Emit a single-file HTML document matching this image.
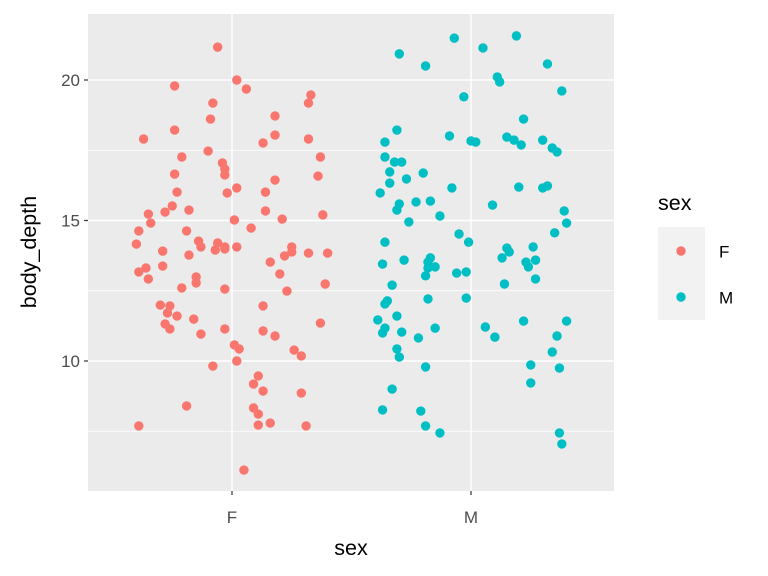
<!DOCTYPE html>
<html><head><meta charset="utf-8"><style>
html,body{margin:0;padding:0;background:#fff;}
svg{display:block;font-family:"Liberation Sans",sans-serif;}
</style></head><body>
<svg id="chart" width="768" height="576"></svg>
<script>
const categories = ["F","M"];
const yTicks = [10,15,20];
const yMinor = [7.5,12.5,17.5];
const fJitter = [-0.06,-0.24,0.02,0.06,0.33,0.32,-0.08,-0.09,-0.24,0.18,0.18,0.32,-0.10,-0.21,0.37,-0.04,-0.03,-0.03,-0.24,-0.23,-0.37,0.02,-0.02,0.13,0.36,0.18,0.14,-0.25,-0.35,-0.39,-0.28,-0.18,0.14,0.21,0.38,-0.34,-0.19,0.01,0.08,-0.14,-0.06,-0.13,-0.03,-0.03,0.02,-0.07,-0.40,-0.29,-0.18,0.25,0.25,0.22,0.16,0.32,0.40,-0.39,-0.29,-0.36,-0.15,-0.15,-0.21,-0.03,0.39,0.23,-0.30,-0.26,-0.27,-0.23,-0.16,0.13,-0.28,-0.26,-0.13,-0.03,0.13,0.18,0.37,0.01,0.03,0.26,0.29,0.02,-0.08,0.11,0.09,0.13,0.29,-0.19,0.09,0.11,0.16,0.11,-0.39,0.31,0.05,0.20,-0.35];
const fDepth = [21.17,19.79,20.0,19.68,19.47,19.18,19.18,18.61,18.22,18.72,18.04,17.90,17.47,17.26,17.26,17.05,16.83,16.62,16.65,16.01,17.90,16.16,15.98,17.76,16.58,16.44,16.01,15.52,15.23,14.63,15.30,15.37,15.34,15.05,15.20,14.91,14.63,15.02,14.73,14.27,14.20,14.06,14.06,13.99,14.06,13.95,14.16,13.91,13.77,14.06,13.88,13.74,13.52,13.84,13.84,13.17,13.38,13.31,12.99,12.78,12.60,12.56,12.74,12.49,11.99,11.96,11.71,11.60,11.49,11.96,11.32,11.14,10.96,11.14,11.07,10.89,11.35,10.57,10.43,10.39,10.18,10.0,9.82,9.47,9.18,8.93,8.86,8.40,8.33,8.11,7.79,7.72,7.69,7.69,6.12,13.10,12.92];
const mJitter = [-0.30,-0.19,-0.07,0.05,0.19,0.11,0.12,-0.03,0.32,0.38,-0.31,0.22,-0.36,0.18,0.21,0.30,0.34,0.36,0.15,-0.09,0.0,0.02,-0.36,-0.32,-0.29,-0.34,-0.27,-0.34,-0.20,-0.08,0.20,0.30,0.32,-0.38,-0.30,-0.31,-0.23,-0.17,0.09,-0.26,-0.13,-0.05,-0.01,-0.36,0.39,0.40,0.35,0.15,0.16,0.26,0.27,0.23,0.13,0.24,-0.28,-0.17,-0.18,-0.18,-0.15,-0.37,-0.06,-0.02,-0.19,0.27,-0.33,0.14,-0.35,-0.36,-0.18,-0.02,-0.36,-0.39,-0.31,0.06,0.10,0.22,0.40,-0.37,-0.29,-0.15,-0.22,0.36,-0.31,-0.30,0.34,0.25,-0.19,0.37,-0.33,0.25,-0.37,-0.21,-0.19,-0.13,0.37,0.38];
const mDepth = [20.93,20.50,21.49,21.14,21.57,20.11,19.93,19.40,20.57,19.61,18.22,18.61,17.79,17.86,17.69,17.86,17.58,17.44,17.97,18.01,17.83,17.79,17.26,17.08,17.08,16.73,16.48,16.33,16.69,16.16,16.19,16.16,16.23,15.98,15.59,15.37,15.66,15.69,15.55,14.95,15.16,14.52,14.23,14.23,15.34,14.91,14.56,14.02,13.88,14.06,13.59,13.52,13.67,13.35,13.59,13.67,13.52,13.31,13.35,13.45,13.13,13.17,13.03,12.92,12.70,12.74,12.14,12.03,12.21,12.24,11.17,11.46,11.60,11.21,10.85,11.42,11.42,11.0,11.03,11.17,10.82,10.89,10.43,10.14,10.32,9.86,9.79,9.75,9.0,9.22,8.26,8.22,7.69,7.44,7.44,7.05];
const colors = {F:"#F8766D", M:"#00BFC4"};

const svg = document.getElementById('chart');
const NS = "http://www.w3.org/2000/svg";
const P = {l:88, r:614, t:14, b:491};
function xScale(v){ return 232 + (v-1)*239; }
function yScale(v){ return 80 + (20-v)*28.1; }
function mk(tag, attrs, parent){ const e=document.createElementNS(NS,tag); for(const k in attrs) e.setAttribute(k,attrs[k]); (parent||svg).appendChild(e); return e; }

const panel = mk('rect',{x:P.l,y:P.t,width:P.r-P.l,height:P.b-P.t,fill:'#EBEBEB'});


yMinor.forEach(v=>{ const l=mk('line',{x1:P.l,x2:P.r,y1:yScale(v),y2:yScale(v),stroke:'#fff','stroke-width':0.7});
  
   });
yTicks.forEach(v=>{ const l=mk('line',{x1:P.l,x2:P.r,y1:yScale(v),y2:yScale(v),stroke:'#fff','stroke-width':1.4});
  
  
  const t=mk('line',{x1:P.l-4,x2:P.l,y1:yScale(v),y2:yScale(v),stroke:'#333','stroke-width':1.2});
  
  
  const tx=mk('text',{x:P.l-8,y:yScale(v)+6,'text-anchor':'end','font-size':17,fill:'#4D4D4D'}); tx.textContent=v;
  
   });
categories.forEach((c,i)=>{ const x=xScale(i+1);
  const l=mk('line',{x1:x,x2:x,y1:P.t,y2:P.b,stroke:'#fff','stroke-width':1.4});
  
  
  const t=mk('line',{x1:x,x2:x,y1:P.b,y2:P.b+4,stroke:'#333','stroke-width':1.2});
  
  
  const tx=mk('text',{x:x,y:523,'text-anchor':'middle','font-size':17,fill:'#4D4D4D'}); tx.textContent=c;
  
   });

function drawPts(jit, dep, catIdx, cat){
  jit.forEach((j,i)=>{ const c=mk('circle',{cx:xScale(catIdx+j),cy:yScale(dep[i]),r:4.7,fill:colors[cat]});
    
     });
}
drawPts(fJitter,fDepth,1,'F');
drawPts(mJitter,mDepth,2,'M');

const xt=mk('text',{x:351,y:555,'text-anchor':'middle','font-size':21.5,fill:'#000'}); xt.textContent='sex';


const yt=mk('text',{x:0,y:0,'text-anchor':'middle','font-size':21.5,fill:'#000',transform:'translate(36,252) rotate(-90)'}); yt.textContent='body_depth';



const lt=mk('text',{x:658,y:210,'font-size':21.5,fill:'#000'}); lt.textContent='sex';


const lb=mk('rect',{x:658,y:227,width:47,height:93,fill:'#F2F2F2'});


categories.forEach((c,i)=>{ const y=251+i*46;
  const k=mk('circle',{cx:681,cy:y,r:4.7,fill:colors[c]});
  
  
  const t=mk('text',{x:719,y:y+6.5,'font-size':17,fill:'#000'}); t.textContent=c;
  
   });
</script>
</body></html>
